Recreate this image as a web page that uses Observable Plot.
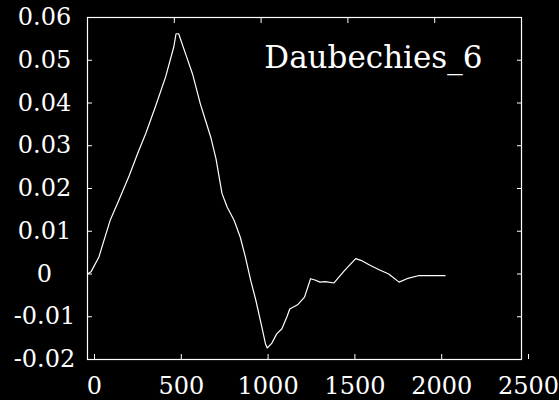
<!DOCTYPE html>
<html>
<head>
<meta charset="utf-8">
<script src="https://cdn.jsdelivr.net/npm/d3@7"></script>
<script src="https://cdn.jsdelivr.net/npm/@observablehq/plot@0.6"></script>
<style>
  html, body { margin: 0; padding: 0; background: #000; }
</style>
</head>
<body>
<div id="chart"></div>
<script>
const xs = [0, 20, 65, 130, 180, 240, 290, 335, 390, 450, 497, 510, 525, 565, 605, 650, 680, 710, 740, 775, 805, 845, 880, 910, 940, 970, 1000, 1025, 1035, 1060, 1090, 1120, 1150, 1165, 1210, 1250, 1285, 1310, 1340, 1370, 1420, 1480, 1545, 1575, 1630, 1680, 1735, 1795, 1840, 1905, 2060];
const ys = [0, 0.0005, 0.0039, 0.0125, 0.0172, 0.023, 0.0283, 0.0328, 0.039, 0.0461, 0.0531, 0.0562, 0.0562, 0.0515, 0.0468, 0.0398, 0.0359, 0.032, 0.027, 0.0188, 0.0156, 0.0125, 0.0086, 0.0039, -0.0015, -0.0062, -0.0116, -0.0163, -0.0173, -0.0163, -0.014, -0.0128, -0.0099, -0.0082, -0.0072, -0.0054, -0.0011, -0.0014, -0.0019, -0.0018, -0.0021, 0.0008, 0.0036, 0.0032, 0.002, 0.001, 0, -0.0019, -0.0011, -0.0004, -0.0004];
const xTicks = [0, 500, 1000, 1500, 2000, 2500];
const yTicks = [-0.02, -0.01, 0, 0.01, 0.02, 0.03, 0.04, 0.05, 0.06];
const title = "Daubechies_6";

const data = xs.map((x, i) => ({x, y: ys[i]}));
const font = "DejaVu Serif";

const chart = Plot.plot({
  width: 559,
  height: 400,
  marginLeft: 87,
  marginRight: 38,
  marginTop: 17,
  marginBottom: 41,
  style: {background: "#000", color: "#fff"},
  x: {domain: [0, 2500], axis: null},
  y: {domain: [-0.02, 0.06], axis: null},
  marks: [
    Plot.frame({stroke: "#fff", strokeWidth: 1.2}),
    Plot.axisX(xTicks, {anchor: "bottom", tickSize: -5, tickPadding: 22, dx: 7, fontSize: 24, fontFamily: font, fill: "#fff", stroke: "#fff", tickFormat: d => String(d), label: null}),
    Plot.axisX(xTicks, {anchor: "top", tickSize: -5, tickFormat: () => "", stroke: "#fff", label: null}),
    Plot.axisY(yTicks, {anchor: "left", tickSize: -5, tickPadding: 48, textAnchor: "middle", fontSize: 24, fontFamily: font, fill: "#fff", stroke: "#fff", tickFormat: d => String(d), label: null}),
    Plot.axisY(yTicks, {anchor: "right", tickSize: -5, tickFormat: () => "", stroke: "#fff", label: null}),
    Plot.line(data, {x: "x", y: "y", stroke: "#fff", strokeWidth: 1.2}),
    Plot.text([title], {text: d => d, frameAnchor: "top-right", textAnchor: "end", lineAnchor: "bottom", dx: -39, dy: 50, fontSize: 31, fontFamily: font, fill: "#fff"})
  ]
});
document.getElementById("chart").appendChild(chart);
</script>
</body>
</html>
